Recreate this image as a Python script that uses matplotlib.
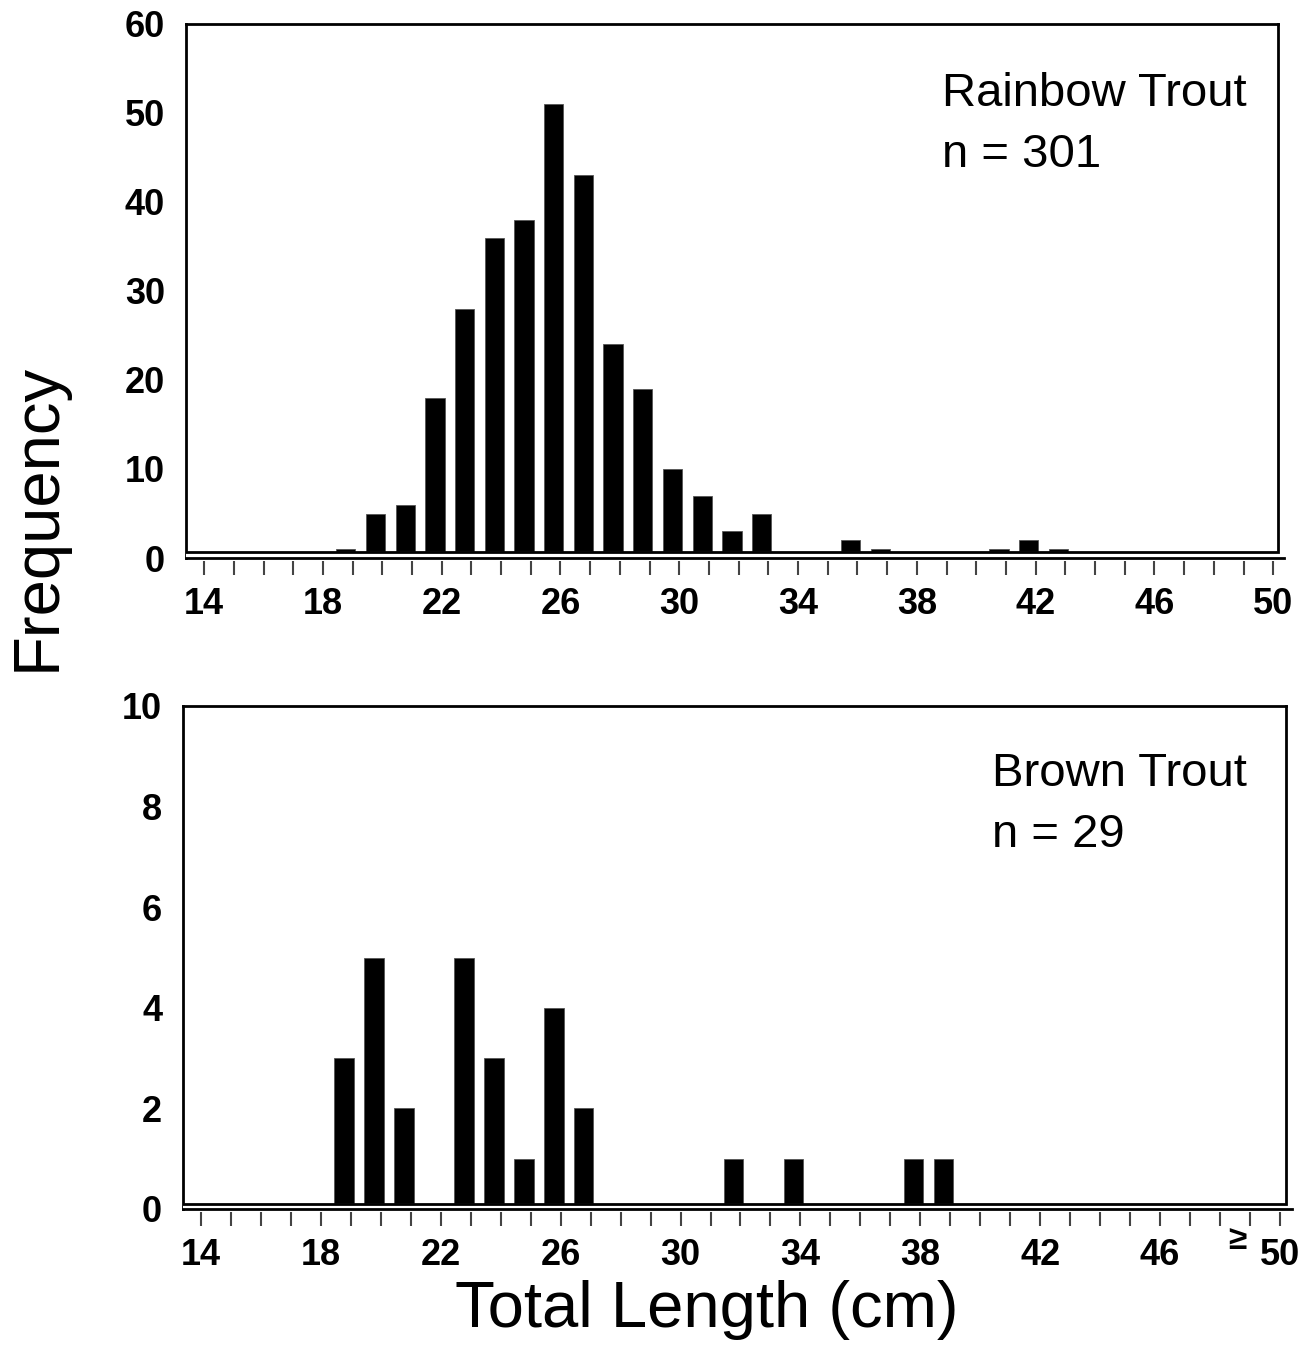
import numpy as np
import matplotlib
matplotlib.use("Agg")
import matplotlib.pyplot as plt
from matplotlib.transforms import blended_transform_factory

plt.rcParams['font.family'] = ['Liberation Sans', 'DejaVu Sans']

# length classes (cm) and counts per class
rainbow_len = [19, 20, 21, 22, 23, 24, 25, 26, 27, 28, 29, 30, 31, 32, 33,
               36, 37, 41, 42, 43]
rainbow_n = [1, 5, 6, 18, 28, 36, 38, 51, 43, 24, 19, 10, 7, 3, 5,
             2, 1, 1, 2, 1]

brown_len = [19, 20, 21, 23, 24, 25, 26, 27, 32, 34, 38, 39]
brown_n = [3, 5, 2, 5, 3, 1, 4, 2, 1, 1, 1, 1]

tick_pos = list(range(14, 51))
label_pos = [14, 18, 22, 26, 30, 34, 38, 42, 46, 50]
rainbow_yticks = [0, 10, 20, 30, 40, 50, 60]
brown_yticks = [0, 2, 4, 6, 8, 10]

W, H = 1307, 1354
fig = plt.figure(figsize=(W / 100, H / 100), dpi=100)


def panel(rect, lens, counts, ymax, yticks, xlim, line_end, box_gap,
          name, n_text, text_xy):
    l, r, t, b = rect
    ax = fig.add_axes([l / W, 1 - b / H, (r - l) / W, (b - t) / H])
    x = np.array(lens) - 0.23
    ax.bar(x, counts, width=0.65, color='black', edgecolor='#555555',
           linewidth=0.6, zorder=2)
    ax.set_xlim(*xlim)
    ax.set_ylim(0, ymax)

    # plot-area floor sits a little above the axis line
    gap = box_gap * ymax
    ax.axhspan(0, gap, color='white', zorder=3)
    ax.axhline(gap, color='black', lw=2, zorder=4)
    ax.plot([xlim[0], line_end], [0, 0], color='black', lw=2,
            clip_on=False, zorder=5)

    ax.spines['bottom'].set_visible(False)
    ax.spines['right'].set_bounds(gap, ymax)
    for s in ['left', 'top', 'right']:
        ax.spines[s].set_linewidth(2)

    ax.set_yticks(yticks)
    ax.set_yticklabels([str(v) for v in yticks], fontsize=26,
                       fontweight='bold')
    ax.tick_params(axis='y', length=0, pad=15)

    ax.set_xticks(label_pos)
    ax.set_xticklabels([str(v) for v in label_pos], fontsize=26,
                       fontweight='bold')
    ax.tick_params(axis='x', length=0, pad=21)

    # minor tick marks hang below the axis line
    trans = blended_transform_factory(ax.transData, ax.transAxes)
    px = 1.0 / (b - t)
    ax.vlines(tick_pos, -3 * px, -17 * px, colors='#444444', lw=1.5,
              transform=trans, clip_on=False)

    ax.text(text_xy[0], text_xy[1], name + '\n' + n_text, fontsize=34,
            transform=ax.transAxes, ha='left', va='top', linespacing=1.5)
    return ax


ax1 = panel((186, 1278, 24, 558), rainbow_len, rainbow_n, 60, rainbow_yticks,
            (13.39, 50.16), 50.36, 6 / 534, 'Rainbow Trout', 'n = 301',
            ((942 - 186) / 1092, (558 - 72) / 534))

ax2 = panel((183, 1286, 706, 1209), brown_len, brown_n, 10, brown_yticks,
            (13.4, 50.2), 50.4, 5 / 503, 'Brown Trout', 'n = 29',
            ((992 - 183) / 1103, (1209 - 752) / 503))

# open-ended top class
ax2.annotate('≥', xy=(50, 0), xycoords='data', xytext=(-31, -23),
             textcoords='offset points', fontsize=24, fontweight='bold',
             ha='center', va='center', annotation_clip=False)

fig.text(707 / W, 1 - 1310 / H, 'Total Length (cm)', fontsize=47,
         ha='center', va='center')
fig.text(38 / W, 1 - 517 / H, 'Frequency', fontsize=47, rotation=90,
         ha='center', va='center')

fig.savefig('out.png', dpi=100)
